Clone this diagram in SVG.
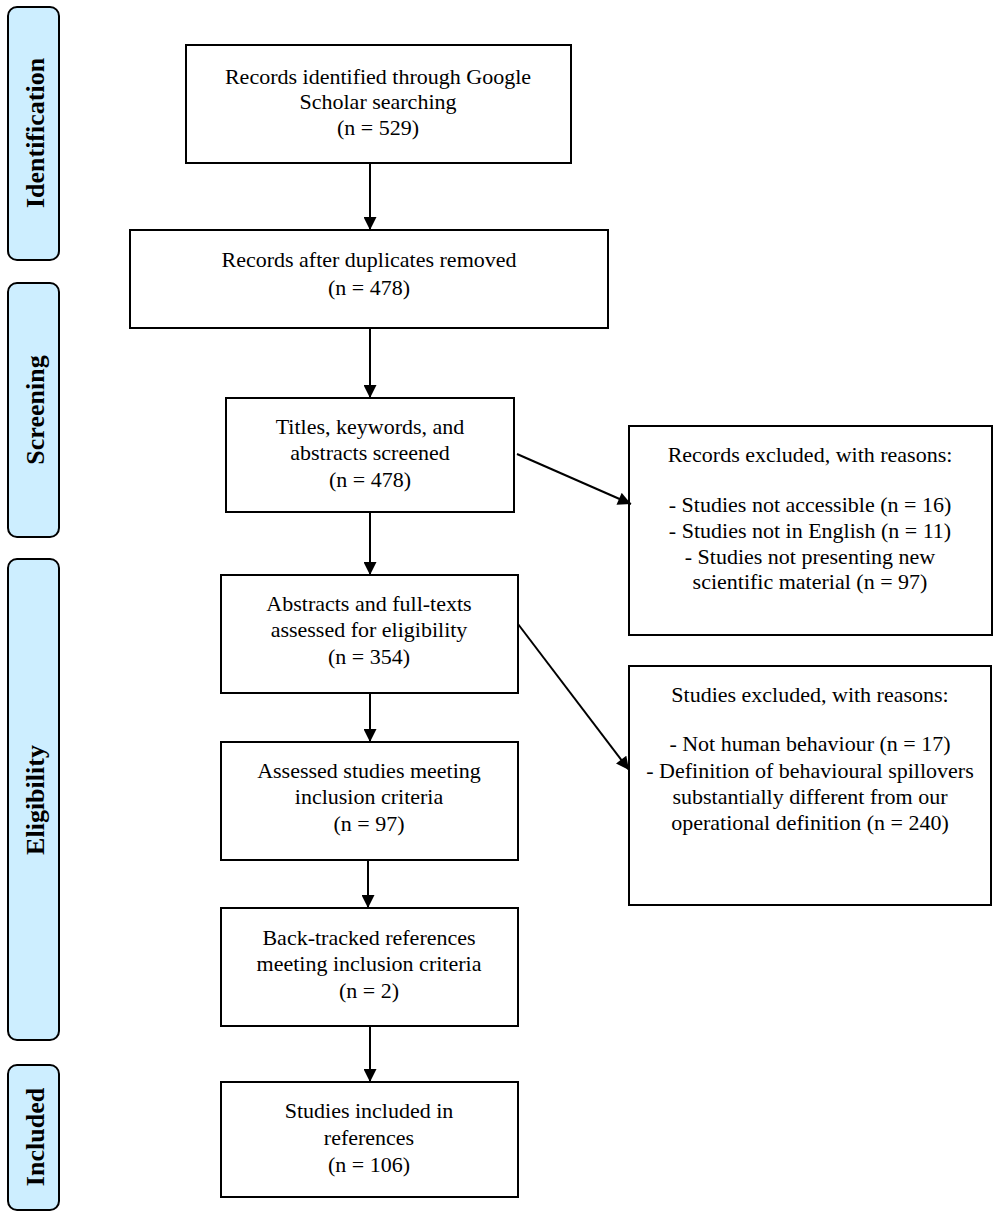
<svg xmlns="http://www.w3.org/2000/svg" width="1000" height="1217" viewBox="0 0 1000 1217">
<style>
.box{fill:#fff;stroke:#000;stroke-width:2}
.side{fill:#cdeeff;stroke:#000;stroke-width:2}
text{font-family:"Liberation Serif","Times New Roman",serif;font-size:22px;fill:#000;text-anchor:middle}
.lab{font-weight:bold;font-size:26px}
.con line{stroke:#000;stroke-width:2;marker-end:url(#ah)}
</style>
<defs>
<marker id="ah" viewBox="0 0 10 10" refX="10" refY="5" markerWidth="7" markerHeight="6.5" markerUnits="strokeWidth" orient="auto">
<path d="M0,0 L10,5 L0,10 Z" fill="#000"/>
</marker>
</defs>
<rect width="1000" height="1217" fill="#fff"/>
<g id="side-identification"><rect class="side" x="8" y="7" width="51" height="253" rx="9"/><text class="lab" transform="translate(44,133) rotate(-90)">Identification</text></g>
<g id="side-screening"><rect class="side" x="8" y="283" width="51" height="254" rx="9"/><text class="lab" transform="translate(44,410) rotate(-90)">Screening</text></g>
<g id="side-eligibility"><rect class="side" x="8" y="559" width="51" height="481" rx="9"/><text class="lab" transform="translate(44,800) rotate(-90)">Eligibility</text></g>
<g id="side-included"><rect class="side" x="8" y="1065" width="51" height="145" rx="9"/><text class="lab" transform="translate(44,1137) rotate(-90)">Included</text></g>

<g id="n1"><rect class="box" x="186" y="45" width="385" height="118"/><text x="378" y="84">Records identified through Google</text><text x="378" y="109">Scholar searching</text><text x="378" y="135">(n = 529)</text></g>
<g id="n2"><rect class="box" x="130" y="230" width="478" height="98"/><text x="369" y="267">Records after duplicates removed</text><text x="369" y="295">(n = 478)</text></g>
<g id="n3"><rect class="box" x="226" y="398" width="288" height="114"/><text x="370" y="434">Titles, keywords, and</text><text x="370" y="460">abstracts screened</text><text x="370" y="487">(n = 478)</text></g>
<g id="n4"><rect class="box" x="221" y="575" width="297" height="118"/><text x="369" y="611">Abstracts and full-texts</text><text x="369" y="637">assessed for eligibility</text><text x="369" y="664">(n = 354)</text></g>
<g id="n5"><rect class="box" x="221" y="742" width="297" height="118"/><text x="369" y="778">Assessed studies meeting</text><text x="369" y="804">inclusion criteria</text><text x="369" y="831">(n = 97)</text></g>
<g id="n6"><rect class="box" x="221" y="908" width="297" height="118"/><text x="369" y="945">Back-tracked references</text><text x="369" y="971">meeting inclusion criteria</text><text x="369" y="998">(n = 2)</text></g>
<g id="n7"><rect class="box" x="221" y="1082" width="297" height="115"/><text x="369" y="1118">Studies included in</text><text x="369" y="1145">references</text><text x="369" y="1172">(n = 106)</text></g>

<g id="exA"><rect class="box" x="629" y="426" width="363" height="209"/><text x="810" y="462">Records excluded, with reasons:</text><text x="810" y="512">- Studies not accessible (n = 16)</text><text x="810" y="538">- Studies not in English (n = 11)</text><text x="810" y="564">- Studies not presenting new</text><text x="810" y="589">scientific material (n = 97)</text></g>
<g id="exB"><rect class="box" x="629" y="666" width="362" height="239"/><text x="810" y="702">Studies excluded, with reasons:</text><text x="810" y="751">- Not human behaviour (n = 17)</text><text x="810" y="778">- Definition of behavioural spillovers</text><text x="810" y="804">substantially different from our</text><text x="810" y="830">operational definition (n = 240)</text></g>

<g class="con" id="connectors">
<line x1="370" y1="163" x2="370" y2="230"/>
<line x1="370" y1="328" x2="370" y2="398"/>
<line x1="370" y1="512" x2="370" y2="575"/>
<line x1="370" y1="693" x2="370" y2="742"/>
<line x1="368" y1="860" x2="368" y2="908"/>
<line x1="370" y1="1026" x2="370" y2="1082"/>
<line x1="517" y1="454" x2="631" y2="504"/>
<line x1="518" y1="624" x2="629" y2="770"/>
</g>
</svg>
